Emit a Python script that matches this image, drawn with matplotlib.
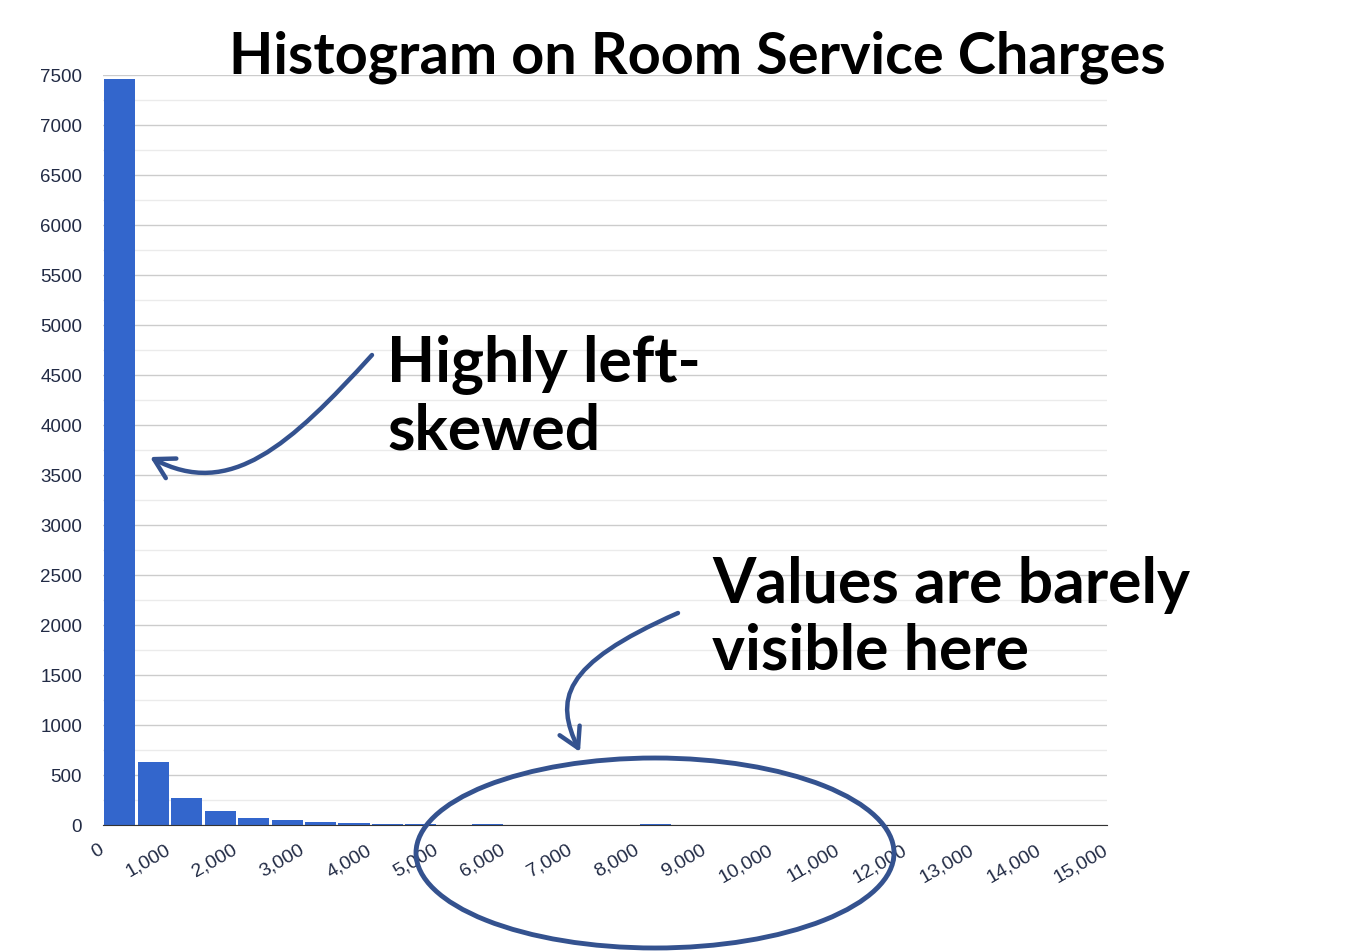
import numpy as np
import matplotlib.pyplot as plt
from matplotlib.patches import Ellipse, FancyArrowPatch
from matplotlib.path import Path
from matplotlib.ticker import FuncFormatter, MultipleLocator
from matplotlib.transforms import ScaledTranslation

# histogram bins (width 500) and counts
bin_left = np.arange(0, 15000, 500)
counts = [7460, 630, 273, 140, 73, 50, 33, 23, 10, 9,
          0, 8, 0, 0, 0, 0, 8, 0, 0, 0,
          0, 0, 0, 0, 0, 0, 0, 0, 0, 0]
y_ticks = np.arange(0, 7501, 500)
x_ticks = np.arange(0, 15001, 1000)

title = "Histogram on Room Service Charges"
note_skew = "Highly left-\nskewed"
note_tail = "Values are barely\nvisible here"

W, H = 1370, 952
fig = plt.figure(figsize=(W / 100, H / 100), dpi=100)
ax = fig.add_axes([103 / W, 1 - 825 / H, 1004 / W, 750 / H])

bar_col = "#3366cc"
ink = "#34528f"
lab_col = "#222b45"

ax.bar(bin_left + 250, counts, width=465, color=bar_col, zorder=3)

ax.set_xlim(0, 15000)
ax.set_ylim(0, 7500)
ax.set_yticks(y_ticks)
ax.set_xticks(x_ticks)
ax.yaxis.set_minor_locator(MultipleLocator(250))
ax.xaxis.set_major_formatter(FuncFormatter(lambda v, p: f"{int(v):,}"))
ax.grid(axis="y", which="major", color="#cccccc", lw=1, zorder=0)
ax.grid(axis="y", which="minor", color="#ebebeb", lw=1, zorder=0)
ax.tick_params(which="both", length=0)
ax.tick_params(axis="y", pad=15, labelsize=13.5, labelcolor=lab_col)
ax.tick_params(axis="x", pad=12, labelsize=14, labelcolor=lab_col)
for lab in ax.get_yticklabels() + ax.get_xticklabels():
    lab.set_fontfamily("Liberation Sans")
shift = ScaledTranslation(-5 / 100, 0, fig.dpi_scale_trans)
for lab in ax.get_xticklabels():
    lab.set_rotation(30)
    lab.set_ha("right")
    lab.set_rotation_mode("anchor")
    lab.set_transform(lab.get_transform() + shift)
for s in ["top", "right", "left"]:
    ax.spines[s].set_visible(False)
ax.spines["bottom"].set_color("#333333")
ax.spines["bottom"].set_zorder(4)


def fx(x):
    return x / W


def fy(y):
    return 1 - y / H


fig.text(fx(697), fy(73), title, ha="center", va="baseline",
         fontsize=41.5, fontweight="bold", family="Lato")

# va baseline on multi-line text anchors the last line
fig.text(fx(387), fy(450), note_skew, ha="left", va="baseline",
         fontsize=45, fontweight="bold", family="Lato", linespacing=1.2)
fig.text(fx(712), fy(670), note_tail, ha="left", va="baseline",
         fontsize=45, fontweight="bold", family="Lato", linespacing=1.2)

# hand drawn arrows and ellipse
def curve(pts):
    verts = [(fx(x), fy(y)) for x, y in pts]
    return Path(verts, [Path.MOVETO, Path.CURVE4, Path.CURVE4, Path.CURVE4])


a1 = FancyArrowPatch(path=curve([(372, 355), (290, 445), (230, 500), (150, 457)]),
                     arrowstyle="->,head_length=14,head_width=8",
                     color=ink, lw=3.2, transform=fig.transFigure)
a2 = FancyArrowPatch(path=curve([(678, 613), (560, 665), (555, 700), (580, 752)]),
                     arrowstyle="->,head_length=14,head_width=8",
                     color=ink, lw=3.2, transform=fig.transFigure)
fig.add_artist(a1)
fig.add_artist(a2)

ell = Ellipse((fx(655), fy(853)), 478 / W, 190 / H, fill=False,
              edgecolor=ink, lw=3.5, transform=fig.transFigure)
fig.add_artist(ell)

fig.savefig("out.png", dpi=100, facecolor="white")
